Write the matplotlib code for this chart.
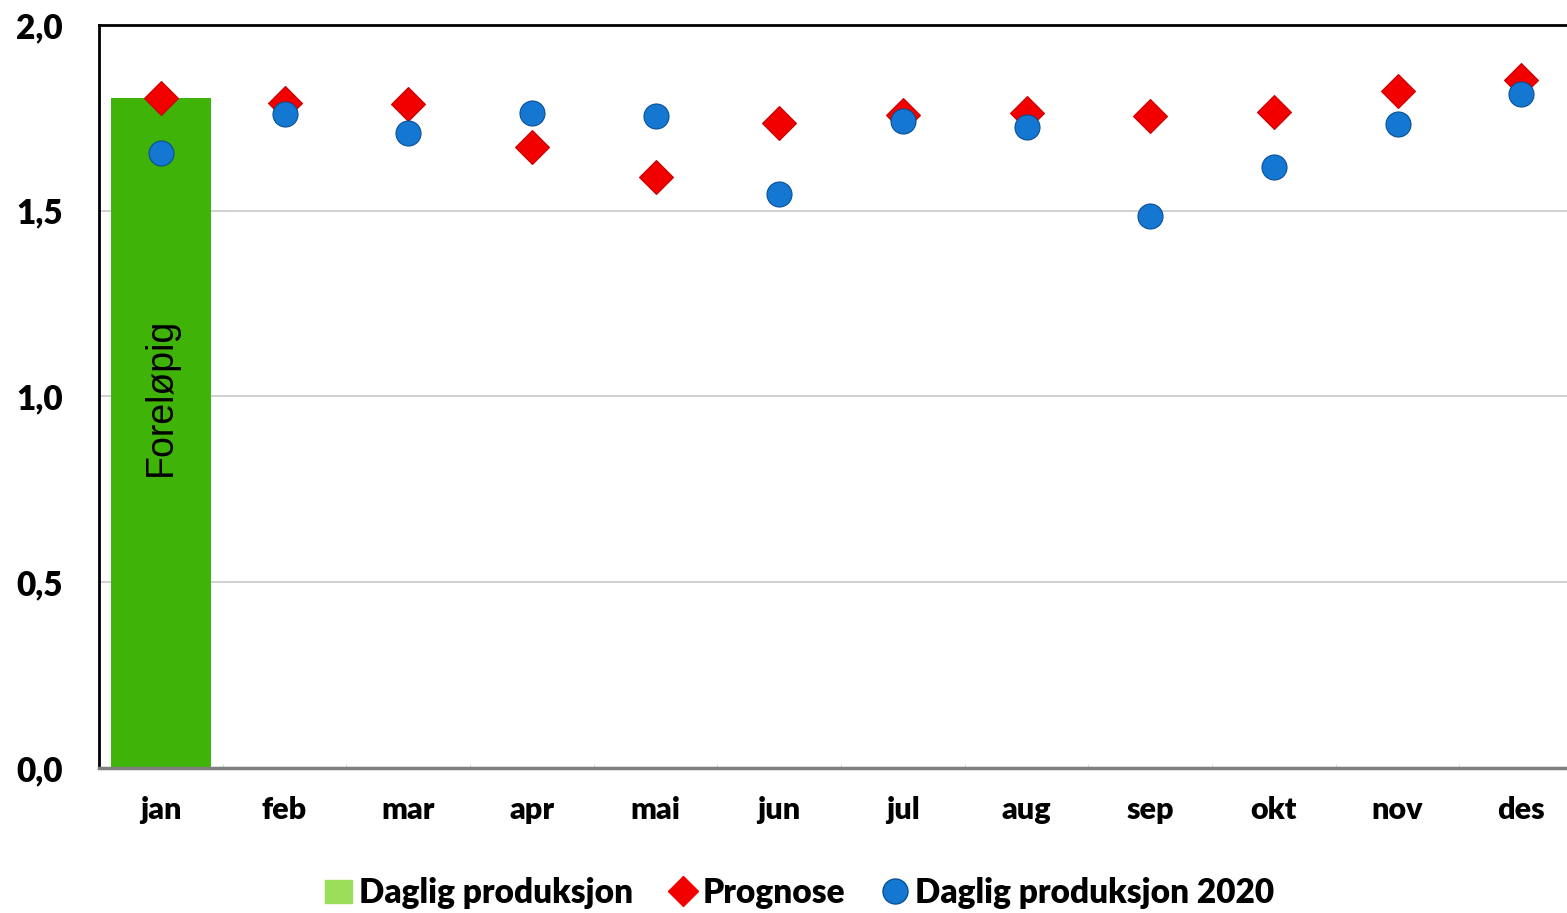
import matplotlib
matplotlib.use("Agg")
import matplotlib.pyplot as plt
from matplotlib import font_manager

months = ["jan", "feb", "mar", "apr", "mai", "jun", "jul", "aug", "sep", "okt", "nov", "des"]
daglig = [1.803]
prognose = [1.803, 1.790, 1.787, 1.672, 1.591, 1.736, 1.758, 1.763, 1.755, 1.766, 1.822, 1.852]
daglig_2020 = [1.655, 1.760, 1.709, 1.763, 1.755, 1.545, 1.742, 1.725, 1.486, 1.618, 1.733, 1.814]
y_ticks = [0.0, 0.5, 1.0, 1.5, 2.0]
bar_note = "Foreløpig"

names = {f.name for f in font_manager.fontManager.ttflist}
main_font = "Liberation Sans Narrow" if "Liberation Sans Narrow" in names else "Lato"
plt.rcParams["font.family"] = [main_font, "DejaVu Sans"]
weight = "heavy"

fig = plt.figure(figsize=(15.67, 9.13), dpi=100)
ax = fig.add_axes([99 / 1567, 1 - 768 / 913, 1468 / 1567, 743 / 913])

x = list(range(len(months)))
ax.bar(x[:len(daglig)], daglig, width=0.81, color="#40b308", zorder=2)
ax.plot(x, prognose, linestyle="none", marker="D", markersize=17, color="#f20000",
        markeredgecolor="#c80000", markeredgewidth=0.8, zorder=3)
ax.plot(x, daglig_2020, linestyle="none", marker="o", markersize=18, color="#1478d2",
        markeredgecolor="#0a4f95", markeredgewidth=0.8, zorder=4)

ax.text(0, 1.0, bar_note, rotation=90, ha="center", va="center", fontsize=27,
        family=["Liberation Sans", "DejaVu Sans"], zorder=5)

ax.set_xlim(-0.5, 11.37)
ax.set_ylim(0, 2.0)
ax.set_yticks(y_ticks)
ax.set_yticklabels([f"{v:.1f}".replace(".", ",") for v in y_ticks], fontsize=24, fontweight=weight)
ax.set_xticks(x)
ax.set_xticklabels(months, fontsize=22, fontweight=weight)
ax.tick_params(axis="y", length=0, pad=26)
ax.tick_params(axis="x", length=0, pad=20)
ax.set_xticks([i + 0.5 for i in x[:-1]], minor=True)
ax.tick_params(axis="x", which="minor", length=3, color="#d0d0d0", direction="in")
ax.grid(True, axis="y", color="#c8c8c8", linewidth=1.2, zorder=0)
ax.set_axisbelow(True)

ax.spines["right"].set_visible(False)
ax.spines["top"].set_linewidth(2)
ax.spines["left"].set_linewidth(2)
ax.spines["bottom"].set_color("#7f7f7f")
ax.spines["bottom"].set_linewidth(2.5)

h_bar = plt.Rectangle((0, 0), 1, 1, color="#9ade5a")
h_prog = plt.Line2D([], [], linestyle="none", marker="D", markersize=15, color="#f20000")
h_2020 = plt.Line2D([], [], linestyle="none", marker="o", markersize=18, color="#1478d2",
                    markeredgecolor="#0a4f95")
fig.legend([h_bar, h_prog, h_2020], ["Daglig produksjon", "Prognose", "Daglig produksjon 2020"],
           loc="center", bbox_to_anchor=(800 / 1567, 1 - 893 / 913), ncol=3, frameon=False,
           prop={"size": 24, "weight": weight}, handlelength=0.8, handletextpad=0.2,
           columnspacing=1.1)

fig.savefig("out.png", dpi=100)
